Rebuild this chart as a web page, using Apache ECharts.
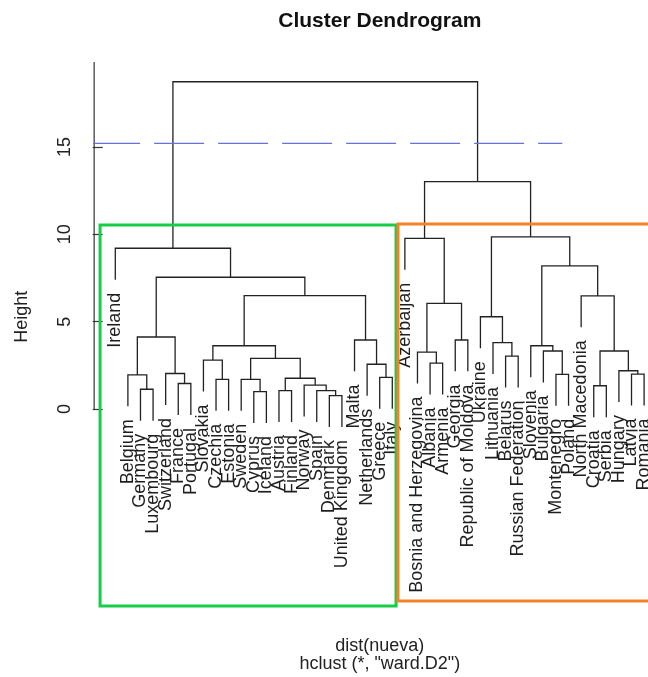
<!DOCTYPE html>
<html>
<head>
<meta charset="utf-8">
<script src="https://cdn.jsdelivr.net/npm/echarts@6/dist/echarts.min.js"></script>
<style>
  html, body { margin: 0; padding: 0; background: #fff; }
  #chart { width: 648px; height: 677px; }
</style>
</head>
<body>
<div id="chart"></div>
<script>
// Leaves in plotting order (left to right)
const leafLabels = [
  "Ireland", "Belgium", "Germany", "Luxembourg", "Switzerland", "France", "Portugal",
  "Slovakia", "Czechia", "Estonia", "Sweden", "Cyprus", "Iceland", "Austria", "Finland",
  "Norway", "Spain", "Denmark", "United Kingdom", "Malta", "Netherlands", "Greece", "Italy",
  "Azerbaijan", "Bosnia and Herzegovina", "Albania", "Armenia", "Georgia",
  "Republic of Moldova", "Ukraine", "Lithuania", "Belarus", "Russian Federation",
  "Slovenia", "Bulgaria", "Montenegro", "Poland", "North Macedonia", "Croatia", "Serbia",
  "Hungary", "Latvia", "Romania"
];

// Agglomeration steps: [left, right, height]; a string is a leaf, a number is an earlier step
const merges = [
  ["Denmark", "United Kingdom", 0.76],   // 0
  ["Cyprus", "Iceland", 0.99],           // 1
  ["Austria", "Finland", 1.05],          // 2
  ["Spain", 0, 1.05],                    // 3
  ["Germany", "Luxembourg", 1.13],       // 4
  ["Croatia", "Serbia", 1.33],           // 5
  ["Norway", 3, 1.37],                   // 6
  ["France", "Portugal", 1.46],          // 7
  ["Czechia", "Estonia", 1.70],          // 8
  ["Sweden", 1, 1.70],                   // 9
  [2, 6, 1.76],                          // 10
  ["Greece", "Italy", 1.81],             // 11
  ["Belgium", 4, 1.95],                  // 12
  ["Montenegro", "Poland", 1.98],        // 13
  ["Latvia", "Romania", 2.00],           // 14
  ["Switzerland", 7, 2.03],              // 15
  ["Hungary", 14, 2.19],                 // 16
  ["Netherlands", 11, 2.56],             // 17
  ["Albania", "Armenia", 2.62],          // 18
  ["Slovakia", 8, 2.80],                 // 19
  [9, 10, 2.90],                         // 20
  ["Belarus", "Russian Federation", 3.03], // 21
  ["Bosnia and Herzegovina", 18, 3.25],  // 22
  ["Bulgaria", 13, 3.32],                // 23
  [5, 16, 3.32],                         // 24
  [19, 20, 3.62],                        // 25
  ["Slovenia", 23, 3.62],                // 26
  ["Lithuania", 21, 3.80],               // 27
  ["Malta", 17, 3.95],                   // 28
  ["Georgia", "Republic of Moldova", 3.95], // 29
  [12, 15, 4.12],                        // 30
  ["Ukraine", 27, 5.28],                 // 31
  [22, 29, 6.05],                        // 32
  ["North Macedonia", 24, 6.47],         // 33
  [25, 28, 6.49],                        // 34
  [30, 34, 7.54],                        // 35
  [26, 33, 8.19],                        // 36
  ["Ireland", 35, 9.20],                 // 37
  ["Azerbaijan", 32, 9.77],              // 38
  [31, 36, 9.85],                        // 39
  [38, 39, 13.01],                       // 40
  [37, 40, 18.73]                        // 41
];

const heightTicks = [0, 5, 10, 15];
const axisTop = 19.86;
const cutHeight = 15.2;
const cutSpan = [-1.0, 36.5];
// Cluster boxes: [xLeft, xRight, bottom, top, colour]
const clusterBoxes = [
  [-0.21, 23.30, -11.28, 10.53, "#16cd48"],
  [23.45, 43.5, -10.99, 10.59, "#f5822b"]
];

const hang = 0.1;
const FONT = '"Liberation Sans", Arial, sans-serif';

// Build link polylines and leaf label anchors from the merge table
const allHeights = merges.map(m => m[2]);
const drop = hang * (Math.max(...allHeights) - Math.min(...allHeights));
const leafPos = {};
leafLabels.forEach((n, i) => { leafPos[n] = i + 1; });
const nodeX = [], nodeH = [];
const links = [];
const leafTips = [];
merges.forEach(([a, b, h], k) => {
  const end = c => {
    if (typeof c === "string") {
      leafTips.push([leafPos[c], h - drop, c]);
      return [leafPos[c], h - drop];
    }
    return [nodeX[c], nodeH[c]];
  };
  const [ax, ay] = end(a);
  const [bx, by] = end(b);
  nodeX[k] = (ax + bx) / 2;
  nodeH[k] = h;
  links.push([ax, ay, bx, by, h]);
});

const chart = echarts.init(document.getElementById("chart"), null, { renderer: "canvas" });

const option = {
  animation: false,
  backgroundColor: "#ffffff",
  grid: { left: 94.15, top: 62, right: 0, height: 510, containLabel: false, outerBoundsMode: "none" },
  xAxis: { type: "value", min: -0.68, max: 43.31, show: false },
  yAxis: {
    type: "value", min: -9.33, max: axisTop,
    axisLine: { show: false },
    splitLine: { show: false },
    axisTick: { show: true, length: 10, customValues: heightTicks, lineStyle: { color: "#333", width: 1.2 } },
    axisLabel: { customValues: heightTicks, rotate: 90, margin: 20, fontSize: 18, color: "#222", fontFamily: FONT }
  },
  graphic: [
    { type: "text", x: 379.8, y: 21, z: 10,
      style: { text: "Cluster Dendrogram", align: "center", verticalAlign: "middle",
               font: 'bold 21px ' + FONT, fill: "#111" } },
    { type: "text", x: 21.7, y: 316.7, rotation: Math.PI / 2, z: 10,
      style: { text: "Height", align: "center", verticalAlign: "middle",
               font: '18px ' + FONT, fill: "#222" } },
    { type: "text", x: 379.8, y: 646.5, z: 10,
      style: { text: "dist(nueva)", align: "center", verticalAlign: "middle",
               font: '18px ' + FONT, fill: "#222" } },
    { type: "text", x: 379.8, y: 664.5, z: 10,
      style: { text: 'hclust (*, "ward.D2")', align: "center", verticalAlign: "middle",
               font: '18px ' + FONT, fill: "#222" } }
  ],
  series: [
    {
      name: "axis", type: "line", symbol: "none", silent: true, clip: false,
      data: [[-0.68, 0], [-0.68, axisTop]],
      lineStyle: { color: "#333", width: 1.2 }
    },
    {
      name: "cut", type: "line", symbol: "none", silent: true, clip: false,
      data: [[cutSpan[0], cutHeight], [cutSpan[1], cutHeight]],
      lineStyle: { color: "#6a70dc", width: 1.3, type: [50, 14] }
    },
    {
      name: "links", type: "custom", silent: true,
      data: links,
      encode: { x: [0, 2], y: [1, 3, 4] },
      renderItem: (params, api) => {
        const p1 = api.coord([api.value(0), api.value(1)]);
        const p2 = api.coord([api.value(0), api.value(4)]);
        const p3 = api.coord([api.value(2), api.value(4)]);
        const p4 = api.coord([api.value(2), api.value(3)]);
        return {
          type: "polyline",
          shape: { points: [p1, p2, p3, p4] },
          style: { stroke: "#222", lineWidth: 1.3, fill: null }
        };
      }
    },
    {
      name: "leaves", type: "custom", silent: true,
      data: leafTips,
      encode: { x: 0, y: 1 },
      renderItem: (params, api) => {
        const p = api.coord([api.value(0), api.value(1)]);
        return {
          type: "text",
          x: p[0], y: p[1] + 13,
          rotation: Math.PI / 2,
          style: { text: leafTips[params.dataIndex][2], align: "right", verticalAlign: "middle",
                   font: '18px ' + FONT, fill: "#1e1e1e" }
        };
      }
    },
    {
      name: "clusters", type: "custom", silent: true, z: 5,
      data: clusterBoxes.map(b => b.slice(0, 4)),
      encode: { x: [0, 1], y: [2, 3] },
      renderItem: (params, api) => {
        const tl = api.coord([api.value(0), api.value(3)]);
        const br = api.coord([api.value(1), api.value(2)]);
        return {
          type: "rect",
          shape: { x: tl[0], y: tl[1], width: br[0] - tl[0], height: br[1] - tl[1] },
          style: { stroke: clusterBoxes[params.dataIndex][4], lineWidth: 3, fill: null }
        };
      }
    }
  ]
};

chart.setOption(option);
</script>
</body>
</html>
